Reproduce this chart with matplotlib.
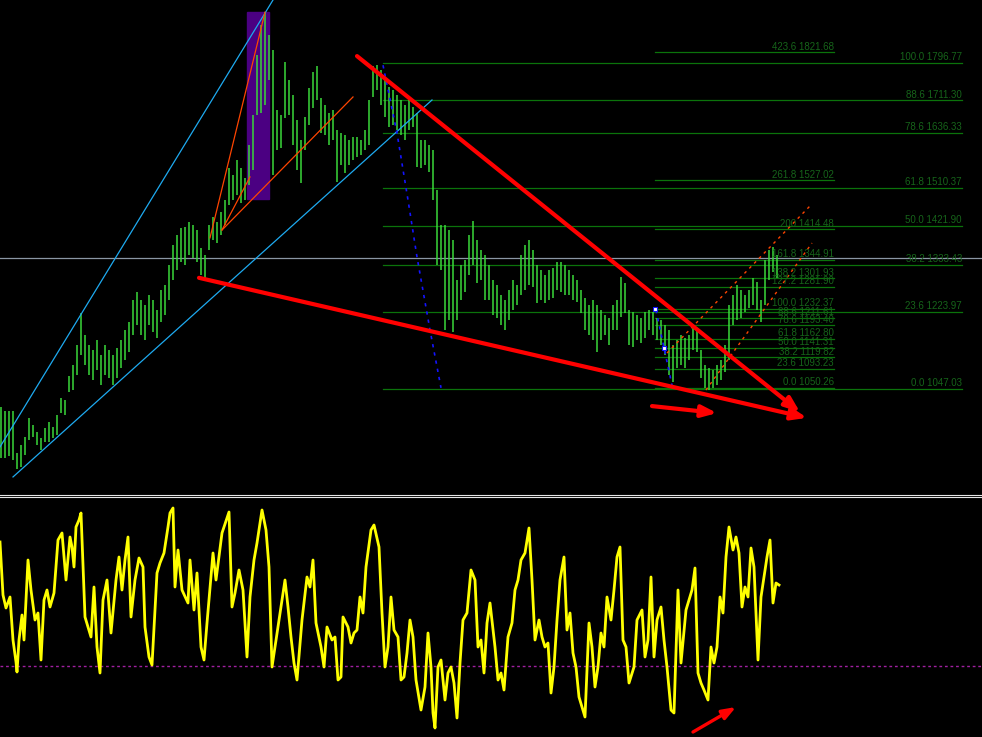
import matplotlib
matplotlib.use("Agg")
import matplotlib.pyplot as plt
import numpy as np
from matplotlib.lines import Line2D
from matplotlib.patches import Rectangle

# ---- price bars (high / low), one per bar index ----
bar_high = [
    1006, 997, 997, 997, 900, 919, 937, 981, 965, 948,
    935, 958, 971, 960, 988, 1027, 1022, 1077, 1103, 1149,
    1222, 1172, 1149, 1137, 1160, 1126, 1149, 1137, 1126, 1142,
    1160, 1183, 1201, 1252, 1270, 1252, 1241, 1264, 1252, 1229,
    1275, 1287, 1333, 1379, 1402, 1418, 1420, 1431, 1425, 1413,
    1372, 1356, 1425, 1443, 1431, 1454, 1482, 1556, 1540, 1574,
    1556, 1533, 1609, 1678, 1816, 1885, 1914, 1862, 1827, 1689,
    1678, 1799, 1758, 1724, 1666, 1620, 1673, 1740, 1776, 1790,
    1717, 1701, 1682, 1689, 1643, 1636, 1632, 1620, 1627, 1627,
    1620, 1643, 1712, 1790, 1793, 1781, 1758, 1742, 1735, 1724,
    1712, 1701, 1712, 1696, 1682, 1620, 1620, 1609, 1597, 1505,
    1425, 1425, 1413, 1390, 1298, 1333, 1344, 1402, 1434, 1390,
    1367, 1356, 1333, 1298, 1287, 1264, 1252, 1275, 1298, 1287,
    1356, 1379, 1390, 1367, 1333, 1321, 1310, 1321, 1326, 1339,
    1339, 1333, 1321, 1310, 1298, 1275, 1257, 1241, 1252, 1241,
    1229, 1218, 1211, 1241, 1252, 1305, 1291, 1229, 1224, 1218,
    1211, 1224, 1229, 1224, 1211, 1206, 1195, 1183, 1149, 1160,
    1172, 1165, 1172, 1188, 1183, 1137, 1103, 1096, 1091, 1103,
    1114, 1149, 1241, 1264, 1287, 1275, 1264, 1275, 1303, 1293,
    1252, 1344, 1367, 1374, 1356,
]
bar_low = [
    889, 889, 893, 884, 863, 868, 896, 930, 937, 919,
    907, 925, 925, 935, 942, 992, 988, 1040, 1045, 1080,
    1126, 1103, 1080, 1068, 1091, 1057, 1080, 1073, 1057, 1073,
    1096, 1114, 1132, 1172, 1195, 1172, 1160, 1195, 1178, 1165,
    1201, 1218, 1252, 1298, 1321, 1339, 1333, 1356, 1349, 1339,
    1310, 1303, 1367, 1390, 1383, 1402, 1425, 1471, 1482, 1494,
    1475, 1482, 1517, 1551, 1678, 1682, 1701, 1758, 1540, 1597,
    1602, 1671, 1678, 1609, 1551, 1521, 1597, 1655, 1694, 1712,
    1636, 1632, 1609, 1620, 1523, 1563, 1544, 1563, 1574, 1581,
    1586, 1597, 1609, 1719, 1735, 1701, 1673, 1650, 1655, 1643,
    1632, 1620, 1643, 1650, 1558, 1556, 1563, 1546, 1482, 1333,
    1321, 1183, 1206, 1178, 1206, 1252, 1270, 1310, 1333, 1291,
    1298, 1252, 1252, 1218, 1211, 1195, 1183, 1206, 1229, 1241,
    1264, 1275, 1287, 1282, 1245, 1252, 1245, 1252, 1257, 1275,
    1270, 1264, 1264, 1252, 1247, 1222, 1183, 1172, 1160, 1132,
    1160, 1172, 1149, 1183, 1183, 1213, 1222, 1149, 1144, 1160,
    1153, 1165, 1183, 1172, 1160, 1149, 1126, 1080, 1063, 1096,
    1103, 1096, 1114, 1137, 1132, 1073, 1050, 1045, 1050, 1057,
    1068, 1086, 1114, 1195, 1206, 1211, 1224, 1234, 1241, 1229,
    1201, 1241, 1298, 1316, 1303,
]

# ---- oscillator (bar position, value) ----
osc_t = [
    -0.25, 0.5, 1.25, 2.25, 3, 3.75, 4, 4.5, 5.25, 5.75, 6.75, 7.5, 8.5, 9.25, 10,
    10.75, 11.5, 12.25, 13.25, 14.25, 15.25, 16.25, 17.25, 17.75, 18.25, 18.75,
    19.5, 20, 21, 21.75, 22.5, 23.25, 24, 24.75, 25.5, 26.5, 27.5, 28.75, 29.5,
    30.25, 31, 31.75, 32.5, 33.5, 34.5, 35.5, 36, 37, 37.75, 39, 39.75, 40.75,
    41.75, 42.25, 43, 43.5, 44.25, 45.25, 46.75, 47.25, 48.25, 49, 50, 50.75,
    51.5, 53, 53.75, 55.25, 57, 57.75, 58.5, 59.5, 60.5, 61.5, 62.25, 63.25, 64,
    65.25, 66.25, 67, 67.75, 68.75, 70, 71, 71.75, 72.5, 73.25, 74, 75.25, 76.5,
    77.25, 78, 78.75, 80, 80.75, 81.5, 82.75, 83.5, 84.25, 85, 85.5, 86.75, 87.5,
    88.25, 89, 89.75, 90.5, 91.25, 92.5, 93.25, 94.5, 95.25, 96, 96.75, 97.5,
    98.25, 99.25, 100, 100.75, 101.5, 102.25, 103, 103.75, 105, 106, 106.75,
    107.5, 108, 108.5, 109.25, 110, 111, 111.75, 112.5, 113.25, 114, 114.75,
    115.5, 116.5, 117.5, 118.5, 119.25, 120, 120.75, 121.5, 122.25, 123.5,
    124.25, 125, 125.75, 126.75, 127.75, 128.5, 129.25, 130, 131, 132, 132.75,
    133.5, 134.5, 135.25, 136, 136.75, 137.5, 138.25, 139, 139.75, 140.75, 141.5,
    142.25, 143, 143.75, 144.5, 145.25, 146, 147, 147.75, 148.5, 149.25, 150,
    150.75, 151.5, 152.5, 153.25, 154, 154.75, 155.5, 156.25, 157, 158.25, 159,
    160.25, 161, 161.75, 162.5, 163.25, 164, 165, 165.75, 166.5, 167.5, 168.25,
    169.25, 170, 171.25, 172, 172.75, 173.5, 174.25, 175, 175.75, 176.75, 177.5,
    178.25, 179, 179.75, 180.5, 181.25, 182, 183, 183.75, 184.5, 185.25, 186,
    186.75, 187.5, 188.25, 189.25, 190, 190.75, 191.5, 192.25, 193, 193.75, 194.5,
]
osc_v = [
    124, 71, 58, 69, 26, 4, -6, 26, 51, 26, 106, 76, 46, 53, 6,
    66, 76, 59, 73, 126, 133, 86, 129, 119, 99, 139,
    146, 153, 49, 39, 29, 79, 19, -7, 66, 86, 33, 86, 109,
    76, 106, 129, 49, 86, 108, 99, 39, 9, 1, 93, 103, 113,
    139, 153, 158, 79, 116, 76, 63, 106, 56, 93, 19, 6,
    43, 113, 86, 133, 154, 59, 73, 96, 76, 9, 69, 106, 123,
    156, 136, 99, -1, 26, 59, 86, 59, 29, 3, -14, 46, 89,
    79, 106, 43, 19, -1, 39, 26, 29, -14, -11, 49, 39, 23,
    33, 36, 69, 53, 99, 136, 141, 119, 53, -1, 19, 69,
    36, 29, -14, -11, 13, 46, 29, -14, -44, -21, 33,
    -1, -47, -62, -1, 6, -34, -7, -1, -17, -52, 3,
    46, 53, 96, 86, 19, 26, -7, 43, 63, 19,
    -14, -7, -24, 29, 43, 76, 86, 106, 113, 138, 86,
    26, 46, 29, 19, 23, -27, -1, 46, 86, 109, 36,
    53, 13, -1, -31, -41, -51, 43, 19, -21, -1, 33,
    19, 69, 46, 76, 109, 119, 26, 19, -17, -1, 46,
    56, 9, 26, 89, 9, 46, 59, 26, -1, -44, -47,
    76, 3, 56, 66, 76, 98, -7, -17, -24, -34, 19,
    3, 19, 69, 53, 109, 139, 116, 129, 113, 59, 79,
    69, 118, 99, 6, 69, 89, 109, 126, 63, 83, 81,
]
osc_level = 0

# ---- fibonacci retracement / expansion ----
fib1_levels = ["0.0", "23.6", "38.2", "50.0", "61.8", "78.6", "88.6", "100.0"]
fib1_prices = [1047.03, 1223.97, 1333.43, 1421.90, 1510.37, 1636.33, 1711.30, 1796.77]
fib1_span = (95.5, 240.25)

fib2_levels = ["0.0", "23.6", "38.2", "50.0", "61.8", "78.6", "88.6", "100.0",
               "127.2", "138.2", "161.8", "200", "261.8", "423.6"]
fib2_prices = [1050.26, 1093.23, 1119.82, 1141.31, 1162.80, 1193.40, 1211.61, 1232.37,
               1281.90, 1301.93, 1344.91, 1414.48, 1527.02, 1821.68]
fib2_span = (163.5, 208.25)

bid_price = 1347.5

# ---- hand-drawn objects, anchors as (bar, price) ----
cyan_upper = [(-0.25, 914), (68, 1942)]
cyan_lower = [(3, 845), (107.75, 1712)]
orange_fan = [
    [(52.25, 1395), (66, 1914)],
    [(55.25, 1413), (62.25, 1535)],
    [(55.25, 1413), (88, 1719)],
]
zone_box = (61.5, 67, 1484, 1914)
red_arrows = [
    [(89, 1813), (199.75, 994)],
    [(49.5, 1303), (201.5, 981)],
    [(162.75, 1008), (179, 992)],
]
osc_arrow = [(173, -66), (183.75, -41)]
blue_path_1 = [(95.5, 1792), (99, 1636), (101.75, 1482), (104, 1351), (107.25, 1183), (110, 1050)]
blue_path_2 = [(163.75, 1229), (168, 1045)]
markers = [(163.5, 1231), (165.75, 1142)]
chan_upper = [(166.5, 1130), (202.75, 1473)]
chan_lower = [(176.25, 1045), (202.75, 1383)]

BAR_GREEN = "#3ad83a"
FIB_LINE = "#0b730b"
FIB_TEXT = "#16641a"

fig = plt.figure(figsize=(9.82, 7.37), dpi=100, facecolor="black")
ax = fig.add_axes([0, 244 / 737, 1, 493 / 737])
ax2 = fig.add_axes([0, 0, 1, 238 / 737])
for a in (ax, ax2):
    a.set_facecolor("black")
    a.set_xlim(-0.25, 245.25)
    a.axis("off")
ax.set_ylim(808.1, 1942)
ax2.set_ylim(-71, 167)

t = np.arange(len(bar_high))

x0, x1, y0, y1 = zone_box
ax.add_patch(Rectangle((x0, y0), x1 - x0, y1 - y0, color="#4b0082", zorder=1))

ax.axhline(bid_price, color="#8a96a4", lw=0.9, zorder=1.5)

for lvl, p in zip(fib1_levels, fib1_prices):
    ax.plot(fib1_span, [p, p], color=FIB_LINE, lw=0.9, zorder=1.6)
    ax.annotate("{} {:.2f}".format(lvl, p), (fib1_span[1], p), xytext=(0, 2),
                textcoords="offset points", ha="right", va="baseline",
                color=FIB_TEXT, fontsize=7, family="Liberation Sans", zorder=5)
for lvl, p in zip(fib2_levels, fib2_prices):
    ax.plot(fib2_span, [p, p], color=FIB_LINE, lw=0.9, zorder=1.6)
    ax.annotate("{} {:.2f}".format(lvl, p), (fib2_span[1], p), xytext=(0, 2),
                textcoords="offset points", ha="right", va="baseline",
                color=FIB_TEXT, fontsize=7, family="Liberation Sans", zorder=5)

ax.vlines(t, bar_low, bar_high, color=BAR_GREEN, lw=1.1, zorder=2)

for seg in (cyan_upper, cyan_lower):
    xs, ys = zip(*seg)
    ax.plot(xs, ys, color="#1eaaf0", lw=0.9, zorder=3)
for seg in orange_fan:
    xs, ys = zip(*seg)
    ax.plot(xs, ys, color="#ff4500", lw=0.9, zorder=3)
for seg in (chan_upper, chan_lower):
    xs, ys = zip(*seg)
    ax.plot(xs, ys, color="#ff4500", lw=1.0, ls=(0, (2, 3)), zorder=3)
for seg in (blue_path_1, blue_path_2):
    xs, ys = zip(*seg)
    ax.plot(xs, ys, color="#1414ff", lw=1.2, ls=(0, (2, 3)), zorder=3)
mx, my = zip(*markers)
ax.scatter(mx, my, marker="s", s=10, color="white", edgecolor="#1414ff", lw=0.8, zorder=4)

for start, tip in red_arrows:
    ax.annotate("", xy=tip, xytext=start,
                arrowprops=dict(arrowstyle="-|>,head_length=0.9,head_width=0.35",
                                color="#ff0000", lw=3, shrinkA=0, shrinkB=0),
                zorder=6)

# oscillator panel
ax2.axhline(osc_level, color="#a020a0", lw=1.0, ls=(0, (2, 2)))
ax2.plot(osc_t, osc_v, color="#ffff00", lw=2.0)
ax2.annotate("", xy=osc_arrow[1], xytext=osc_arrow[0],
             arrowprops=dict(arrowstyle="-|>,head_length=0.8,head_width=0.3",
                             color="#ff0000", lw=2.4, shrinkA=0, shrinkB=0))

for yy in (495, 497):
    fig.add_artist(Line2D([0, 1], [1 - yy / 737, 1 - yy / 737], color="#e6e6e6",
                          lw=0.8, transform=fig.transFigure))

fig.savefig("out.png", dpi=100, facecolor="black")
